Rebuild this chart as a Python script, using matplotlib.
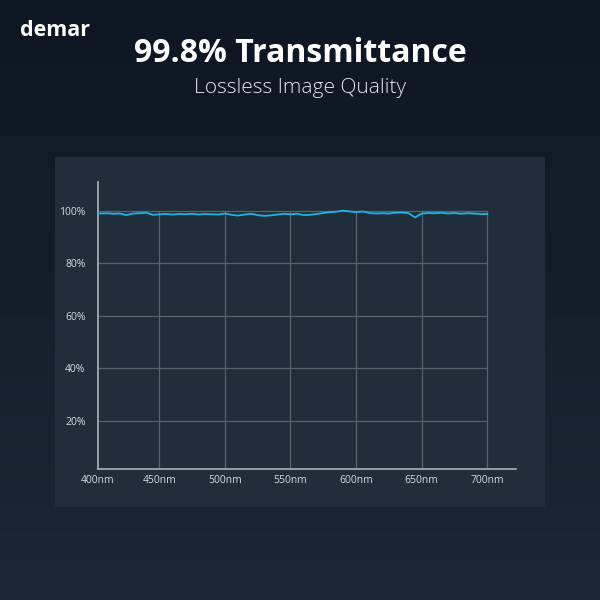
import numpy as np
import matplotlib
matplotlib.use("Agg")
import matplotlib.pyplot as plt
from matplotlib.patches import Rectangle
from matplotlib.colors import LinearSegmentedColormap

# ---- data ----
wavelengths = np.arange(400, 701, 5)
transmittance = [
    99.1, 99.0, 99.1, 98.9, 99.0, 98.4, 99.0, 99.1, 99.3, 98.5,   # 400-445
    98.7, 98.8, 98.6, 98.8, 98.7, 98.9, 98.6, 98.8, 98.7, 98.6,   # 450-495
    99.0, 98.5, 98.2, 98.6, 98.9, 98.4, 98.1, 98.3, 98.6, 98.9,   # 500-545
    98.7, 98.9, 98.4, 98.5, 98.8, 99.2, 99.5, 99.7, 100.1, 99.8,  # 550-595
    99.5, 99.8, 99.2, 99.0, 99.1, 99.0, 99.3, 99.4, 99.1, 97.5,   # 600-645
    99.0, 99.2, 99.1, 99.3, 99.0, 99.2, 98.9, 99.1, 99.0, 98.8,   # 650-695
    98.8,                                                         # 700
]
x_ticks = [450, 500, 550, 600, 650, 700]
x_labels = ["450nm", "500nm", "550nm", "600nm", "650nm", "700nm"]
x_start_label = "400nm"
y_ticks = [20, 40, 60, 80, 100]
y_labels = ["20%", "40%", "60%", "80%", "100%"]

title = "99.8% Transmittance"
subtitle = "Lossless Image Quality"
brand = "demar"

X_LEFT, X_RIGHT = 403.3, 721.9
Y_LOW, Y_HIGH = 1.7, 111

# ---- figure ----
fig = plt.figure(figsize=(6, 6), dpi=100)

bg = fig.add_axes([0, 0, 1, 1], zorder=-10)
grad = np.linspace(0, 1, 256).reshape(-1, 1)
cmap = LinearSegmentedColormap.from_list("bg", ["#0f1623", "#1c2836"])
bg.imshow(grad, aspect="auto", cmap=cmap, extent=[0, 1, 0, 1], origin="upper")
bg.set_xlim(0, 1); bg.set_ylim(0, 1)
bg.axis("off")

bg.add_patch(Rectangle((55 / 600, 1 - 507 / 600), (545 - 55) / 600, (507 - 157) / 600,
                       facecolor="#202e3c", edgecolor="none", zorder=1))

fig.text(20 / 600, 1 - 30 / 600, brand, color="white", fontsize=15.5, fontweight="bold",
         family="Open Sans", ha="left", va="center")
fig.text(0.5, 1 - 54 / 600, title, color="white", fontsize=23, fontweight="bold",
         family="Open Sans", ha="center", va="center")
fig.text(0.5, 1 - 88 / 600, subtitle, color="#e6e9ee", fontsize=15, fontweight="light",
         family="Open Sans", ha="center", va="center")

ax = fig.add_axes([98 / 600, 1 - 469 / 600, (516 - 98) / 600, (469 - 182) / 600])
ax.set_facecolor("none")
ax.set_xlim(X_LEFT, X_RIGHT)
ax.set_ylim(Y_LOW, Y_HIGH)

grid_c = "#56636f"
for yv in y_ticks:
    ax.plot([X_LEFT, 700], [yv, yv], color=grid_c, lw=0.9, zorder=1)
for xv in x_ticks:
    ax.plot([xv, xv], [Y_LOW, 100], color=grid_c, lw=0.9, zorder=1)

ax.plot(wavelengths, transmittance, color="#1db4e6", lw=1.3, zorder=3)

for s in ["top", "right"]:
    ax.spines[s].set_visible(False)
for s in ["left", "bottom"]:
    ax.spines[s].set_color("#a9b3bd")
    ax.spines[s].set_linewidth(1.2)

ax.set_xticks([X_LEFT] + x_ticks)
ax.set_xticklabels([x_start_label] + x_labels)
ax.set_yticks(y_ticks)
ax.set_yticklabels(y_labels)
ax.tick_params(length=0, colors="#d5dae0", labelsize=7.5)
ax.tick_params(axis="x", pad=4)
ax.tick_params(axis="y", pad=9)
for lbl in ax.get_xticklabels() + ax.get_yticklabels():
    lbl.set_family("Open Sans")

fig.savefig("out.png", dpi=100, facecolor="#111a26")
